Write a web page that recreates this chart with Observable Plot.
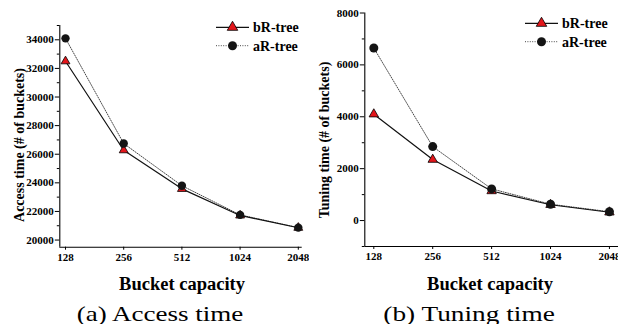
<!DOCTYPE html>
<html>
<head>
<meta charset="utf-8">
<script src="https://cdn.jsdelivr.net/npm/d3@7"></script>
<script src="https://cdn.jsdelivr.net/npm/@observablehq/plot@0.6"></script>
<style>
  html, body { margin: 0; padding: 0; background: #fff; }
  #page { position: relative; width: 618px; height: 324px; overflow: hidden; background: #fff; }
  .panel { position: absolute; top: 0; }
  #overlay { position: absolute; left: 0; top: 0; pointer-events: none; }
  #overlay text { font-family: "Liberation Serif", "Times New Roman", serif; fill: #000; }
</style>
</head>
<body>
<div id="page">
  <div id="left" class="panel" style="left:0px"></div>
  <div id="right" class="panel" style="left:309px"></div>
  <svg id="overlay" width="618" height="324"></svg>
</div>
<script>
// ---- data ----
const capacities = [128, 256, 512, 1024, 2048];
const seriesNames = ["bR-tree", "aR-tree"];
const accessBR = [32500, 26280, 23580, 21720, 20860];
const accessAR = [34100, 26750, 23800, 21760, 20870];
const tuningBR = [4100, 2350, 1140, 610, 320];
const tuningAR = [6650, 2850, 1220, 630, 340];
const accessTicks = [20000, 22000, 24000, 26000, 28000, 30000, 32000, 34000];
const accessMinor = [21000, 23000, 25000, 27000, 29000, 31000, 33000, 35000];
const tuningTicks = [0, 2000, 4000, 6000, 8000];
const tuningMinor = [-1000, 1000, 3000, 5000, 7000];
const xLabel = "Bucket capacity";
const yLabels = ["Access time (# of buckets)", "Tuning time (# of buckets)"];
const captions = ["(a) Access time", "(b) Tuning time"];

function rows(values) { return capacities.map((c, i) => ({c, v: values[i]})); }

function panel({br, ar, yDomain, xDomainLog, yTicks, yMinor, margins, triR, dotR}) {
  const xMin = 2 ** xDomainLog[0], xMax = 2 ** xDomainLog[1];
  return Plot.plot({
    width: 309, height: 270,
    marginLeft: margins[0], marginRight: margins[1], marginTop: margins[2], marginBottom: margins[3],
    style: {fontFamily: "'Liberation Serif', 'Times New Roman', serif", fontWeight: "bold", color: "#000", background: "#fff", overflow: "visible"},
    x: {type: "log", base: 2, domain: [xMin, xMax], label: null},
    y: {domain: yDomain, label: null},
    marks: [
      Plot.axisY(yMinor, {tickSize: 2.5, tickFormat: () => "", label: null, stroke: "#000"}),
      Plot.axisY(yTicks, {tickSize: 4.5, tickPadding: 1.5, fontSize: 11, tickFormat: "d", label: null, stroke: "#000"}),
      Plot.axisX(capacities, {tickSize: 3, tickPadding: 3, fontSize: 11, tickFormat: d => String(d), label: null, stroke: "#000"}),
      Plot.ruleX([xMin], {stroke: "#000", strokeWidth: 1.1}),
      Plot.ruleY([yDomain[0]], {stroke: "#000", strokeWidth: 1.1}),
      Plot.line(rows(ar), {x: "c", y: "v", stroke: "#333", strokeWidth: 0.9, strokeDasharray: "1 1.4"}),
      Plot.line(rows(br), {x: "c", y: "v", stroke: "#111", strokeWidth: 1.2}),
      Plot.dot(rows(br), {x: "c", y: "v", symbol: "triangle", r: triR, fill: "#e3161b", stroke: "#000", strokeWidth: 0.8}),
      Plot.dot(rows(ar), {x: "c", y: "v", symbol: "circle", r: dotR, fill: "#141414", stroke: "none"})
    ]
  });
}

document.getElementById("left").appendChild(panel({
  br: accessBR, ar: accessAR, yDomain: [19500, 35000], xDomainLog: [6.902, 11.067],
  yTicks: accessTicks, yMinor: accessMinor, margins: [59.3, 7.3, 25, 23.3], triR: 3.3, dotR: 4.2
}));
document.getElementById("right").appendChild(panel({
  br: tuningBR, ar: tuningAR, yDomain: [-1000, 8000], xDomainLog: [6.847, 11.154],
  yTicks: tuningTicks, yMinor: tuningMinor, margins: [55.3, 0, 12.5, 24], triR: 3.5, dotR: 4.5
}));

// ---- overlay text: axis titles, captions, legends ----
const ov = d3.select("#overlay");
const panels = [
  {cx: 182, capX: 76.7, capLen: 166.5, yx: 24, yy: 145, legX: 216, legY: 27.3},
  {cx: 490, capX: 383.3, capLen: 171.5, yx: 329, yy: 140, legX: 525, legY: 23.3}
];
panels.forEach((p, i) => {
  ov.append("text").attr("x", p.cx).attr("y", 290).attr("text-anchor", "middle")
    .style("font-size", "18.5px").style("font-weight", "bold").text(xLabel);
  ov.append("text").attr("x", p.capX).attr("y", 320.5)
    .attr("textLength", p.capLen).attr("lengthAdjust", "spacingAndGlyphs")
    .style("font-size", "22px").style("font-weight", "normal").text(captions[i]);
  ov.append("text").attr("transform", `translate(${p.yx},${p.yy}) rotate(-90)`).attr("text-anchor", "middle")
    .style("font-size", "14px").style("font-weight", "bold").text(yLabels[i]);
  // legend
  const g = ov.append("g");
  const y0 = p.legY, y1 = p.legY + 18.4;
  g.append("line").attr("x1", p.legX).attr("x2", p.legX + 33).attr("y1", y0).attr("y2", y0).attr("stroke", "#111").attr("stroke-width", 1.2);
  const s = 3.9;
  g.append("path").attr("d", d3.symbol(d3.symbolTriangle, Math.PI * s * s)())
    .attr("transform", `translate(${p.legX + 16.5},${y0})`).attr("fill", "#e3161b").attr("stroke", "#000").attr("stroke-width", 0.8);
  g.append("line").attr("x1", p.legX).attr("x2", p.legX + 33).attr("y1", y1).attr("y2", y1).attr("stroke", "#333").attr("stroke-width", 0.9).attr("stroke-dasharray", "1 1.4");
  g.append("circle").attr("cx", p.legX + 16.5).attr("cy", y1).attr("r", 4.5).attr("fill", "#141414");
  seriesNames.forEach((n, k) => {
    g.append("text").attr("x", p.legX + 37).attr("y", (k ? y1 : y0) + 4.8)
      .style("font-size", "14px").style("font-weight", "bold").text(n);
  });
});
</script>
</body>
</html>
